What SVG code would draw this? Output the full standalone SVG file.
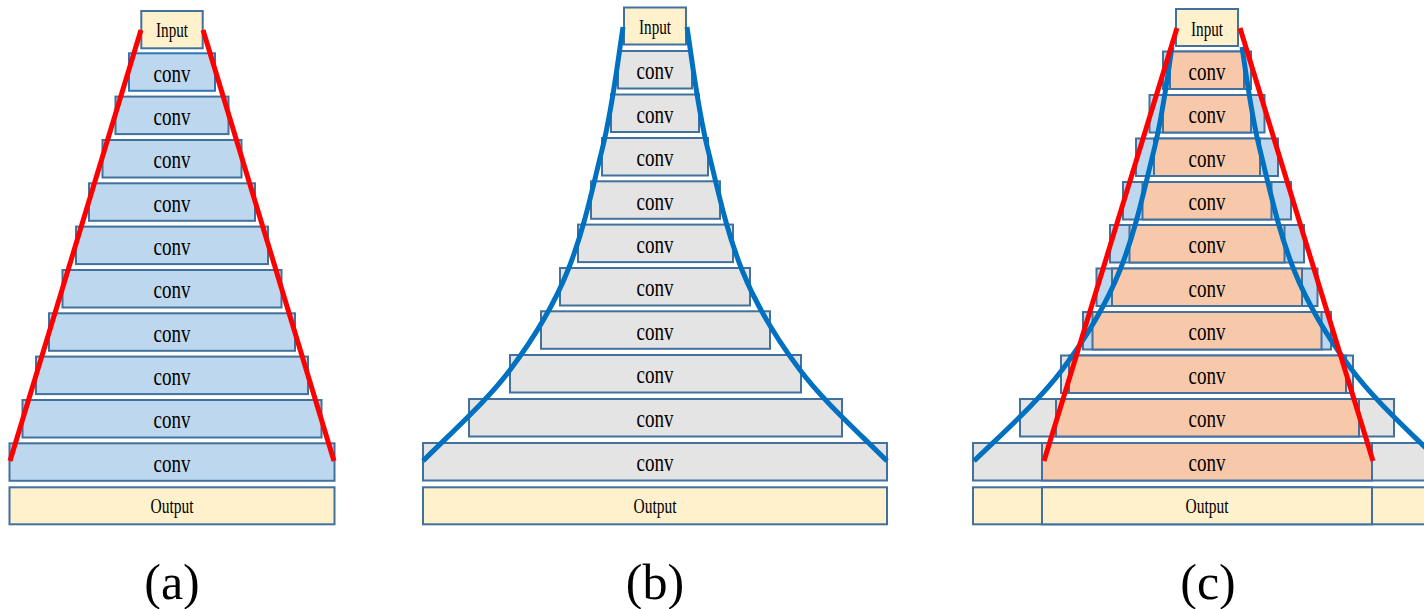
<svg xmlns="http://www.w3.org/2000/svg" width="1424" height="609" viewBox="0 0 1424 609">
<defs>
<style>
.ba{fill:#bdd7ee;stroke:#41719c;stroke-width:2}
.gr{fill:#e4e4e4;stroke:#41719c;stroke-width:2}
.yl{fill:#fff1cc;stroke:#41719c;stroke-width:2}
.or{fill:#f7c9aa;stroke:#41719c;stroke-width:2}
.t{font-family:"Liberation Serif","Times New Roman",serif;fill:#000;text-anchor:middle}
.c{font-size:26px}
.io{font-size:20px}
.lab{font-size:50px}
.red{stroke:#ff0000;stroke-width:5;fill:none}
.blu{stroke:#0070c0;stroke-width:5;fill:none}
</style>
</defs>
<rect width="1424" height="609" fill="#ffffff"/>

<!-- Panel (a) -->
<g id="a-input"><rect class="yl" x="141.3" y="11" width="61.4" height="37.3"/><text class="t io" x="172" y="37.3" textLength="32" lengthAdjust="spacingAndGlyphs">Input</text></g>
<g id="a-conv1"><rect class="ba" style="stroke:#2e75b6" x="129" y="53.3" width="86" height="37.5"/><text class="t c" x="172" y="81.7" textLength="37" lengthAdjust="spacingAndGlyphs">conv</text></g>
<g id="a-conv2"><rect class="ba" x="115.5" y="96.6" width="113" height="37.5"/><text class="t c" x="172" y="125" textLength="37" lengthAdjust="spacingAndGlyphs">conv</text></g>
<g id="a-conv3"><rect class="ba" x="102.5" y="140" width="139" height="37.5"/><text class="t c" x="172" y="168.4" textLength="37" lengthAdjust="spacingAndGlyphs">conv</text></g>
<g id="a-conv4"><rect class="ba" x="89" y="183.3" width="166" height="37.5"/><text class="t c" x="172" y="211.7" textLength="37" lengthAdjust="spacingAndGlyphs">conv</text></g>
<g id="a-conv5"><rect class="ba" x="76" y="226.6" width="192" height="37.5"/><text class="t c" x="172" y="255" textLength="37" lengthAdjust="spacingAndGlyphs">conv</text></g>
<g id="a-conv6"><rect class="ba" x="62.5" y="270" width="219" height="37.5"/><text class="t c" x="172" y="298.4" textLength="37" lengthAdjust="spacingAndGlyphs">conv</text></g>
<g id="a-conv7"><rect class="ba" x="49" y="313.3" width="246" height="37.5"/><text class="t c" x="172" y="341.7" textLength="37" lengthAdjust="spacingAndGlyphs">conv</text></g>
<g id="a-conv8"><rect class="ba" x="36" y="356.6" width="272" height="37.5"/><text class="t c" x="172" y="385" textLength="37" lengthAdjust="spacingAndGlyphs">conv</text></g>
<g id="a-conv9"><rect class="ba" x="22.5" y="400" width="299" height="37.5"/><text class="t c" x="172" y="428.4" textLength="37" lengthAdjust="spacingAndGlyphs">conv</text></g>
<g id="a-conv10"><rect class="ba" x="9.5" y="443.3" width="325" height="37.5"/><text class="t c" x="172" y="471.7" textLength="37" lengthAdjust="spacingAndGlyphs">conv</text></g>
<g id="a-output"><rect class="yl" x="9.5" y="487.3" width="325" height="37"/><text class="t io" x="172" y="512.7" textLength="43" lengthAdjust="spacingAndGlyphs">Output</text></g>
<g id="a-label"><text class="t lab" x="172" y="599">(a)</text></g>

<!-- Panel (b) -->
<g id="b-input"><rect class="yl" x="624" y="7.5" width="62" height="37"/><text class="t io" x="655" y="34" textLength="32" lengthAdjust="spacingAndGlyphs">Input</text></g>
<g id="b-conv1"><rect class="gr" x="618" y="51" width="74" height="37.5"/><text class="t c" x="655" y="79.4" textLength="37" lengthAdjust="spacingAndGlyphs">conv</text></g>
<g id="b-conv2"><rect class="gr" x="611" y="94.5" width="88" height="37.5"/><text class="t c" x="655" y="122.9" textLength="37" lengthAdjust="spacingAndGlyphs">conv</text></g>
<g id="b-conv3"><rect class="gr" x="602" y="138" width="106" height="37.5"/><text class="t c" x="655" y="166.4" textLength="37" lengthAdjust="spacingAndGlyphs">conv</text></g>
<g id="b-conv4"><rect class="gr" x="591" y="181.3" width="129" height="37.5"/><text class="t c" x="655" y="209.7" textLength="37" lengthAdjust="spacingAndGlyphs">conv</text></g>
<g id="b-conv5"><rect class="gr" x="578" y="224.6" width="155" height="37.5"/><text class="t c" x="655" y="253" textLength="37" lengthAdjust="spacingAndGlyphs">conv</text></g>
<g id="b-conv6"><rect class="gr" x="560" y="268" width="190" height="37.5"/><text class="t c" x="655" y="296.4" textLength="37" lengthAdjust="spacingAndGlyphs">conv</text></g>
<g id="b-conv7"><rect class="gr" x="541" y="311.3" width="229" height="37.5"/><text class="t c" x="655" y="339.7" textLength="37" lengthAdjust="spacingAndGlyphs">conv</text></g>
<g id="b-conv8"><rect class="gr" x="510" y="355" width="291" height="37.5"/><text class="t c" x="655" y="383.4" textLength="37" lengthAdjust="spacingAndGlyphs">conv</text></g>
<g id="b-conv9"><rect class="gr" x="469" y="399" width="373" height="37.5"/><text class="t c" x="655" y="427.4" textLength="37" lengthAdjust="spacingAndGlyphs">conv</text></g>
<g id="b-conv10"><rect class="gr" x="423" y="443" width="464" height="37.5"/><text class="t c" x="655" y="471.4" textLength="37" lengthAdjust="spacingAndGlyphs">conv</text></g>
<g id="b-output"><rect class="yl" x="423" y="487.3" width="464" height="37"/><text class="t io" x="655" y="512.7" textLength="43" lengthAdjust="spacingAndGlyphs">Output</text></g>
<g id="b-label"><text class="t lab" x="655" y="599">(b)</text></g>

<!-- Panel (c) -->
<g id="c-input"><rect class="yl" x="1176" y="9" width="62" height="37"/><text class="t io" x="1207" y="35.5" textLength="32" lengthAdjust="spacingAndGlyphs">Input</text></g>
<g id="c-conv1"><rect class="ba" x="1163" y="51.5" width="88" height="37.5"/><rect class="or" x="1170" y="51.5" width="74" height="37.5"/><text class="t c" x="1207" y="79.9" textLength="37" lengthAdjust="spacingAndGlyphs">conv</text></g>
<g id="c-conv2"><rect class="ba" x="1149.5" y="95" width="115" height="37.5"/><rect class="or" x="1163" y="95" width="88" height="37.5"/><text class="t c" x="1207" y="123.4" textLength="37" lengthAdjust="spacingAndGlyphs">conv</text></g>
<g id="c-conv3"><rect class="ba" x="1136" y="138.5" width="142" height="37.5"/><rect class="or" x="1154" y="138.5" width="106" height="37.5"/><text class="t c" x="1207" y="166.9" textLength="37" lengthAdjust="spacingAndGlyphs">conv</text></g>
<g id="c-conv4"><rect class="ba" x="1123" y="182" width="168" height="37.5"/><rect class="or" x="1142.5" y="182" width="129" height="37.5"/><text class="t c" x="1207" y="210.4" textLength="37" lengthAdjust="spacingAndGlyphs">conv</text></g>
<g id="c-conv5"><rect class="ba" x="1110" y="225" width="194" height="37.5"/><rect class="or" x="1129.5" y="225" width="155" height="37.5"/><text class="t c" x="1207" y="253.4" textLength="37" lengthAdjust="spacingAndGlyphs">conv</text></g>
<g id="c-conv6"><rect class="ba" x="1096.5" y="268.5" width="221" height="37.5"/><rect class="or" x="1112" y="268.5" width="190" height="37.5"/><text class="t c" x="1207" y="296.9" textLength="37" lengthAdjust="spacingAndGlyphs">conv</text></g>
<g id="c-conv7"><rect class="ba" x="1083" y="312" width="248" height="37.5"/><rect class="or" x="1092.5" y="312" width="229" height="37.5"/><text class="t c" x="1207" y="340.4" textLength="37" lengthAdjust="spacingAndGlyphs">conv</text></g>
<g id="c-conv8"><rect class="gr" x="1061" y="355.5" width="292" height="37.5"/><rect class="or" x="1069" y="355.5" width="277" height="37.5"/><text class="t c" x="1207" y="383.9" textLength="37" lengthAdjust="spacingAndGlyphs">conv</text></g>
<g id="c-conv9"><rect class="gr" x="1020" y="399" width="374" height="37.5"/><rect class="or" x="1056" y="399" width="303" height="37.5"/><text class="t c" x="1207" y="427.4" textLength="37" lengthAdjust="spacingAndGlyphs">conv</text></g>
<g id="c-conv10"><rect class="gr" x="973" y="443" width="464" height="37.5"/><rect class="or" x="1042" y="443" width="330" height="37.5"/><text class="t c" x="1207" y="471.4" textLength="37" lengthAdjust="spacingAndGlyphs">conv</text></g>
<g id="c-output"><rect class="yl" x="973" y="487.3" width="464" height="37"/><rect class="yl" x="1042" y="487.3" width="330" height="37"/><text class="t io" x="1207" y="512.7" textLength="43" lengthAdjust="spacingAndGlyphs">Output</text></g>
<g id="c-label"><text class="t lab" x="1208" y="599">(c)</text></g>

<!-- Connectors / guide lines -->
<g id="connectors">
<line class="red" x1="141" y1="30" x2="10" y2="461"/>
<line class="red" x1="203" y1="30" x2="334" y2="461"/>
<path class="blu" d="M623,27 C616.8,68 612.3,109 602,150 C592,190 584,230 568,270 C554.7,303.3 535,336.7 510,370 C487.3,400.3 453.3,430.7 423,461"/>
<path class="blu" d="M687,27 C693.2,68 697.7,109 708,150 C718,190 726,230 742,270 C755.3,303.3 775,336.7 800,370 C822.7,400.3 856.7,430.7 887,461"/>
<path class="blu" d="M1172,47 C1166.8,81.3 1162.6,115.7 1154,150 C1144,190 1136,230 1120,270 C1106.7,303.3 1087,336.7 1062,370 C1039.3,400.3 1005.3,430.7 974,461"/>
<path class="blu" d="M1242,47 C1247.2,81.3 1251.4,115.7 1260,150 C1270,190 1278,230 1294,270 C1307.3,303.3 1327,336.7 1352,370 C1374.7,400.3 1408.7,430.7 1439,461"/>
<line class="red" x1="1177" y1="28" x2="1044" y2="461"/>
<line class="red" x1="1240" y1="28" x2="1373" y2="461"/>
</g>
</svg>
